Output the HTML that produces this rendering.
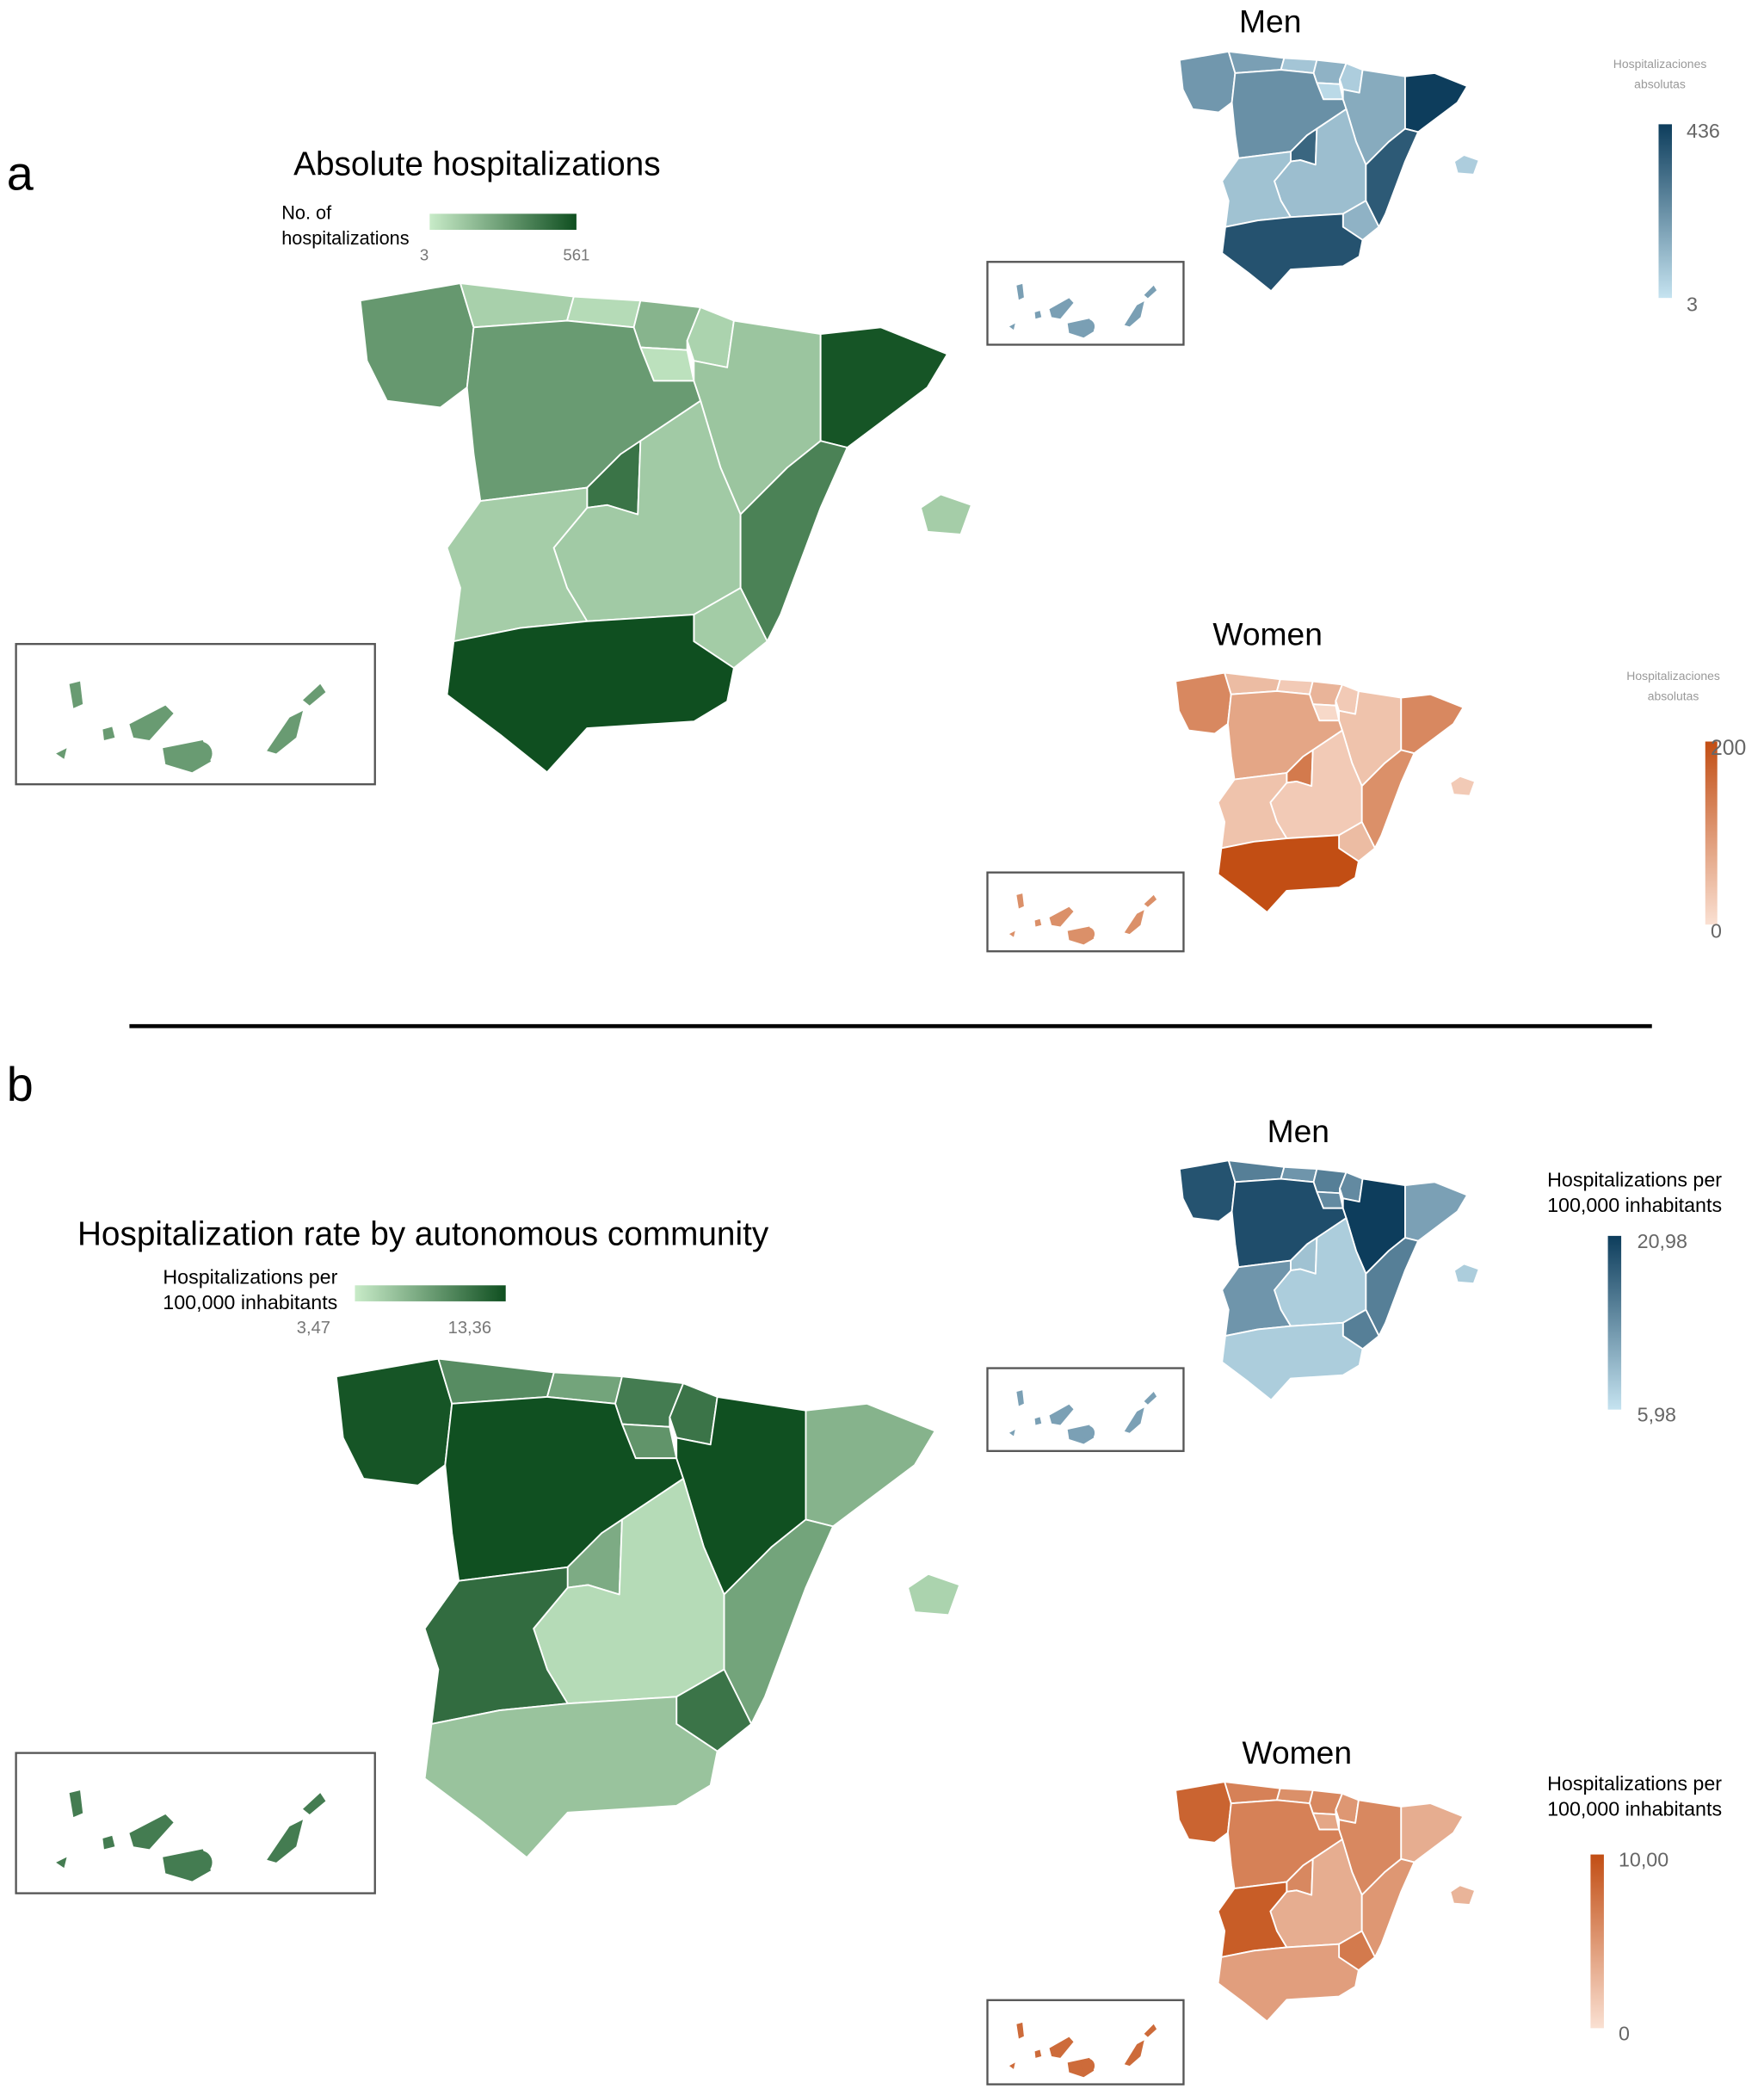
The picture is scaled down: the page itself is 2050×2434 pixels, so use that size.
<!DOCTYPE html>
<html><head><meta charset="utf-8"><style>
html,body{margin:0;padding:0;background:#fff;}
svg{display:block;}
text{font-family:"Liberation Sans",sans-serif;}
</style></head><body>
<svg id="fig" width="2050" height="2434" viewBox="0 0 1322 1568" preserveAspectRatio="none" xmlns="http://www.w3.org/2000/svg">
<defs>
<linearGradient id="gH" x1="0" x2="1" y1="0" y2="0"><stop offset="0" stop-color="#c8ebc8"/><stop offset="1" stop-color="#0f4f20"/></linearGradient>
<linearGradient id="bV" x1="0" x2="0" y1="1" y2="0"><stop offset="0" stop-color="#c5e3f0"/><stop offset="1" stop-color="#0d3d5c"/></linearGradient>
<linearGradient id="oV" x1="0" x2="0" y1="1" y2="0"><stop offset="0" stop-color="#fae0d2"/><stop offset="1" stop-color="#c24e14"/></linearGradient>
</defs>
<text x="5" y="142" font-size="36">a</text>
<text x="5" y="824" font-size="36">b</text>
<line x1="97" y1="768" x2="1238" y2="768" stroke="#000" stroke-width="3"/>
<text x="220" y="131" font-size="25">Absolute hospitalizations</text>
<text x="58" y="932" font-size="25">Hospitalization rate by autonomous community</text>
<text x="952" y="24" font-size="24" text-anchor="middle">Men</text>
<text x="950" y="483" font-size="24" text-anchor="middle">Women</text>
<text x="973" y="855" font-size="24" text-anchor="middle">Men</text>
<text x="972" y="1320" font-size="24" text-anchor="middle">Women</text>
<g>
<text x="211" y="164" font-size="14">No. of</text><text x="211" y="183" font-size="14">hospitalizations</text>
<rect x="322" y="160" width="110" height="12" fill="url(#gH)"/>
<text x="318" y="195" font-size="12" fill="#777" text-anchor="middle">3</text>
<text x="432" y="195" font-size="12" fill="#777" text-anchor="middle">561</text>
</g>
<g>
<text x="253" y="961" font-size="15" text-anchor="end">Hospitalizations per</text><text x="253" y="980" font-size="15" text-anchor="end">100,000 inhabitants</text>
<rect x="266" y="962" width="113" height="12" fill="url(#gH)"/>
<text x="235" y="998" font-size="13" fill="#777" text-anchor="middle">3,47</text>
<text x="352" y="998" font-size="13" fill="#777" text-anchor="middle">13,36</text>
</g>
<g>
<text x="1244" y="51" font-size="9" fill="#999" text-anchor="middle">Hospitalizaciones</text><text x="1244" y="66" font-size="9" fill="#999" text-anchor="middle">absolutas</text>
<rect x="1243" y="93" width="10" height="130" fill="url(#bV)"/>
<text x="1264" y="103" font-size="15" fill="#666">436</text><text x="1264" y="233" font-size="15" fill="#666">3</text>
</g>
<g>
<text x="1254" y="509" font-size="9" fill="#999" text-anchor="middle">Hospitalizaciones</text><text x="1254" y="524" font-size="9" fill="#999" text-anchor="middle">absolutas</text>
<rect x="1278" y="555" width="9" height="137" fill="url(#oV)"/>
<text x="1282" y="565" font-size="16" fill="#666">200</text><text x="1282" y="702" font-size="15" fill="#666">0</text>
</g>
<g>
<text x="1225" y="888" font-size="15" text-anchor="middle">Hospitalizations per</text><text x="1225" y="907" font-size="15" text-anchor="middle">100,000 inhabitants</text>
<rect x="1205" y="925" width="10" height="130" fill="url(#bV)"/>
<text x="1227" y="934" font-size="15" fill="#666">20,98</text><text x="1227" y="1064" font-size="15" fill="#666">5,98</text>
</g>
<g>
<text x="1225" y="1340" font-size="15" text-anchor="middle">Hospitalizations per</text><text x="1225" y="1359" font-size="15" text-anchor="middle">100,000 inhabitants</text>
<rect x="1192" y="1388" width="10" height="130" fill="url(#oV)"/>
<text x="1213" y="1397" font-size="15" fill="#666">10,00</text><text x="1213" y="1527" font-size="15" fill="#666">0</text>
</g>
<g id="maps"></g>
</svg>
<script>
const regions=["galicia","asturias","cantabria","basque","navarra","rioja","castilla-leon","aragon","catalonia","madrid","castilla-la-mancha","extremadura","valencia","murcia","andalucia","balearics","canaries"];
const absTotal=[300,100,60,200,90,40,290,140,540,430,120,110,380,115,561,110,290];
const absMen=[200,180,80,130,60,30,220,150,436,330,100,90,360,130,380,60,180];
const absWomen=[120,50,30,60,30,10,80,40,120,140,30,40,110,50,200,30,110];
const rateTotal=[13,9.5,8,10.5,11,9,13.3,13.3,7,7.5,4.5,11.5,8,11,6,5,10.5];
const rateMen=[19,15,13,15,14,14,19.5,20.98,12,9,8,13,15,15,8,8,12];
const rateWomen=[8.5,6.5,5.5,6,5,4,6.5,6,3.5,6,3.5,9,5,7,4.5,3,8];
const domains={absTotal:[3,561],absMen:[3,436],absWomen:[0,200],rateTotal:[3.47,13.36],rateMen:[5.98,20.98],rateWomen:[0,10]};
const shapes={
galicia:"270,225 345,212 355,245 350,290 330,305 290,300 275,270",
asturias:"345,212 430,222 425,240 355,245",
cantabria:"430,222 480,225 475,245 425,240",
basque:"480,225 525,230 515,255 515,262 480,260 475,245",
navarra:"525,230 550,240 545,275 520,270 515,255",
rioja:"480,260 515,262 520,285 490,285",
"castilla-leon":"355,245 425,240 475,245 480,260 490,285 520,285 525,300 480,330 465,340 440,365 360,375 355,340 350,290",
aragon:"550,240 615,250 615,330 590,350 555,385 540,350 525,300 520,285 520,270 545,275",
catalonia:"615,250 660,245 710,265 695,290 635,335 615,330",
madrid:"440,365 465,340 480,330 478,385 455,378 440,380",
"castilla-la-mancha":"480,330 525,300 540,350 555,385 555,440 520,460 440,465 425,440 415,410 440,380 455,378 478,385",
extremadura:"360,375 440,365 440,380 415,410 425,440 440,465 390,470 340,480 345,440 335,410",
valencia:"590,350 615,330 635,335 615,380 600,420 585,460 575,480 565,460 555,440 555,385",
murcia:"555,440 565,460 575,480 550,500 520,480 520,460",
andalucia:"340,480 390,470 440,465 520,460 520,480 550,500 545,525 520,540 440,545 410,578 375,550 335,520",
balearics:"690,380 705,370 728,378 720,400 695,398"
};
const canaryIslands=[[[30,82],[38,78],[36,86]],[[40,30],[48,28],[50,45],[43,48]],[[65,64],[72,62],[74,70],[66,72]],[[85,60],[112,46],[118,52],[100,72],[88,70]],[[110,78],[140,72],[146,88],[132,96],[112,90]]];
const scales={
green:["#c8ebc8","#0f4f20"],blue:["#c5e3f0","#0d3d5c"],orange:["#fae0d2","#c24e14"]};
function hex(c){return [1,3,5].map(i=>parseInt(c.substr(i,2),16));}
function colorFor(v,dom,sc){let t=(v-dom[0])/(dom[1]-dom[0]);t=Math.max(0,Math.min(1,t));const a=hex(scales[sc][0]),b=hex(scales[sc][1]);return "rgb("+a.map((x,i)=>Math.round(x+(b[i]-x)*t)).join(",")+")";}
const NS="http://www.w3.org/2000/svg";
const maps=[
{name:"map-absolute-total",vals:absTotal,dom:domains.absTotal,sc:"green",tx:0,ty:0,s:1,box:[12,482,269,105]},
{name:"map-absolute-men",vals:absMen,dom:domains.absMen,sc:"blue",tx:751.7,ty:-65.35,s:0.49,box:[740,196,147,62]},
{name:"map-absolute-women",vals:absWomen,dom:domains.absWomen,sc:"orange",tx:748.7,ty:399.65,s:0.49,box:[740,653,147,59]},
{name:"map-rate-total",vals:rateTotal,dom:domains.rateTotal,sc:"green",tx:-23.4,ty:800.7,s:1.02,box:[12,1312,269,105]},
{name:"map-rate-men",vals:rateMen,dom:domains.rateMen,sc:"blue",tx:751.7,ty:764.65,s:0.49,box:[740,1024,147,62]},
{name:"map-rate-women",vals:rateWomen,dom:domains.rateWomen,sc:"orange",tx:748.7,ty:1229.65,s:0.49,box:[740,1497,147,63]}
];
const root=document.getElementById("maps");
maps.forEach(m=>{
 const g=document.createElementNS(NS,"g");
 
 
 g.setAttribute("transform","translate("+m.tx+","+m.ty+") scale("+m.s+")");
 root.appendChild(g);
 regions.forEach((r,i)=>{
  if(!shapes[r])return;
  const p=document.createElementNS(NS,"polygon");
  
  
  p.setAttribute("points",shapes[r]);
  p.setAttribute("fill",colorFor(m.vals[i],m.dom,m.sc));
  p.setAttribute("stroke","#fff");p.setAttribute("stroke-width",1.5/m.s*0.8);
  p.setAttribute("stroke-linejoin","round");
  g.appendChild(p);
 });
 const b=m.box;
 const rect=document.createElementNS(NS,"rect");
 
 
 rect.setAttribute("x",b[0]);rect.setAttribute("y",b[1]);rect.setAttribute("width",b[2]);rect.setAttribute("height",b[3]);
 rect.setAttribute("fill","none");rect.setAttribute("stroke","#555");rect.setAttribute("stroke-width",1.5);
 root.appendChild(rect);
 const cg=document.createElementNS(NS,"g");
 
 
 const k=b[2]/269;
 cg.setAttribute("transform","translate("+b[0]+","+b[1]+") scale("+k+","+(b[3]/105)+")");
 const cc=colorFor(m.vals[16],m.dom,m.sc);
 canaryIslands.forEach(isl=>{
  const p=document.createElementNS(NS,"polygon");
  p.setAttribute("points",isl.map(q=>q.join(",")).join(" "));
  p.setAttribute("fill",cc);cg.appendChild(p);
 });
 const c=document.createElementNS(NS,"circle");c.setAttribute("cx",138);c.setAttribute("cy",82);c.setAttribute("r",9);c.setAttribute("fill",cc);cg.appendChild(c);
 const f=document.createElementNS(NS,"polygon");f.setAttribute("points","188,80 205,55 215,50 210,70 195,82");f.setAttribute("fill",cc);cg.appendChild(f);
 const l=document.createElementNS(NS,"polygon");l.setAttribute("points","215,42 228,30 232,36 220,46");l.setAttribute("fill",cc);cg.appendChild(l);
 root.appendChild(cg);
});
</script>
</body></html>
